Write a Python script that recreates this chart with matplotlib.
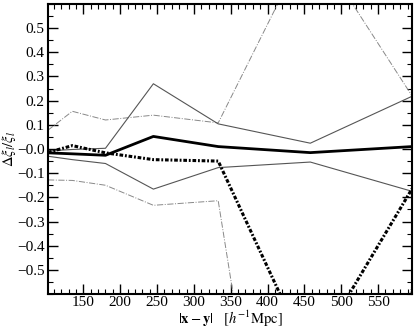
import numpy as np
import matplotlib.pyplot as plt
from matplotlib.ticker import MultipleLocator

plt.rcParams['font.family'] = 'Liberation Serif'
plt.rcParams['mathtext.fontset'] = 'stix'

# separation bins [h^-1 Mpc]
r = [102, 135, 180, 245, 333, 458, 596]

# relative differences
mean_main = [-0.016, -0.02, -0.026, 0.052, 0.01, -0.015, 0.01]
mean_alt = [-0.014, 0.014, -0.016, -0.044, -0.05, -0.87, -0.165]
upper_1s = [-0.008, -0.002, 0.003, 0.27, 0.104, 0.024, 0.218]
lower_1s = [-0.03, -0.044, -0.06, -0.166, -0.077, -0.054, -0.175]
upper_2s = [0.078, 0.156, 0.12, 0.14, 0.108, 0.87, 0.22]
lower_2s = [-0.128, -0.13, -0.15, -0.233, -0.214, -2.6, -0.56]

yt = np.round(np.arange(-0.5, 0.51, 0.1), 1)

fig = plt.figure(figsize=(4.15, 3.27), dpi=100)
ax = fig.add_axes([0.1157, 0.1009, 0.877, 0.8869])

ax.plot(r, upper_2s, color='#888888', lw=0.7, ls='-.')
ax.plot(r, lower_2s, color='#888888', lw=0.7, ls='-.')
ax.plot(r, upper_1s, color='#555555', lw=0.8)
ax.plot(r, lower_1s, color='#555555', lw=0.8)
ax.plot(r, mean_alt, color='black', lw=2.2, ls=(0, (1.2, 0.6, 0.6, 0.6)))
ax.plot(r, mean_main, color='black', lw=2.0)

ax.set_xlim(102, 596)
ax.set_ylim(-0.6, 0.6)
ax.xaxis.set_minor_locator(MultipleLocator(10))
ax.yaxis.set_minor_locator(MultipleLocator(0.05))
ax.set_xticks([150, 200, 250, 300, 350, 400, 450, 500, 550])
ax.set_yticks(yt)
ax.set_yticklabels([f'{v:.1f}'.replace('-', '\u2212') for v in yt])
ax.tick_params(which='both', direction='in', top=True, right=True, labelsize=11)
ax.tick_params(which='major', length=7, width=1)
ax.tick_params(axis='x', which='major', pad=1.5)
ax.tick_params(axis='y', which='major', pad=2.5)
ax.tick_params(which='minor', length=3.5, width=0.8)
for s in ax.spines.values():
    s.set_linewidth(1.5)

ax.set_xlabel(r'$|\mathbf{x}-\mathbf{y}|\quad[h^{-1}\mathrm{Mpc}]$', fontsize=10.5)
ax.set_ylabel(r'$\Delta\xi_l/\xi_l$', fontsize=10.5)
ax.xaxis.set_label_coords(0.5, -0.052)
ax.yaxis.set_label_coords(-0.083, 0.5)

fig.savefig('out.png', dpi=100)
